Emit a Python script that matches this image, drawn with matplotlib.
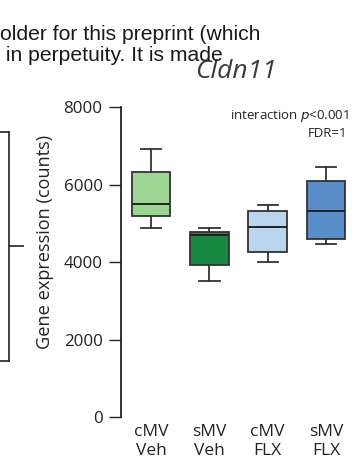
import matplotlib
matplotlib.use("Agg")
import matplotlib.pyplot as plt
from matplotlib.lines import Line2D

# box summaries per group (counts)
groups = ["cMV\nVeh", "sMV\nVeh", "cMV\nFLX", "sMV\nFLX"]
whisker_low = [4890, 3525, 4015, 4470]
q1 = [5190, 3930, 4270, 4600]
median = [5510, 4710, 4900, 5315]
q3 = [6340, 4780, 5320, 6090]
whisker_high = [6920, 4880, 5490, 6450]
box_colors = ["#9dd593", "#168a42", "#bad6ef", "#5a8ecb"]

y_ticks = [0, 2000, 4000, 6000, 8000]
gene = "Cldn11"
stat_lines = ["interaction $p$<0.001", "FDR=1"]
header_lines = ["older for this preprint (which", " in perpetuity. It is made"]

W, H = 352, 461
plt.rcParams["font.family"] = ["Open Sans", "DejaVu Sans"]
edge = "#333333"

fig = plt.figure(figsize=(W / 100, H / 100), dpi=100)


def fx(x):
    return x / W


def fy(y):
    return 1 - y / H


# bracket from the neighbouring panel
for xs, ys in [([0, 9], [131.7, 131.7]), ([9, 9], [131.7, 360.7]),
               ([0, 9], [360.7, 360.7]), ([9, 22.7], [245.7, 245.7])]:
    fig.add_artist(Line2D([fx(v) for v in xs], [fy(v) for v in ys], color=edge, lw=1.3))

ax = fig.add_axes([fx(120.7), 43.7 / H, 235.7 / W, 310 / H])

stats = []
for i, name in enumerate(groups):
    stats.append(dict(label=name, whislo=whisker_low[i], q1=q1[i], med=median[i],
                      q3=q3[i], whishi=whisker_high[i], fliers=[]))

bp = ax.bxp(stats, positions=range(len(groups)), widths=0.66, patch_artist=True,
            showfliers=False, capwidths=0.35,
            boxprops=dict(edgecolor=edge, linewidth=1.3),
            medianprops=dict(color="#222222", linewidth=1.4),
            whiskerprops=dict(color=edge, linewidth=1.3),
            capprops=dict(color=edge, linewidth=1.3))
for patch, c in zip(bp["boxes"], box_colors):
    patch.set_facecolor(c)

ax.set_xlim(-0.52, 3.52)
ax.set_ylim(0, 8000)
ax.set_yticks(y_ticks)
for s in ["top", "right", "bottom"]:
    ax.spines[s].set_visible(False)
ax.spines["left"].set_linewidth(1.3)
ax.spines["left"].set_color("#222222")
ax.tick_params(axis="y", length=8.6, width=1.0, color="#222222", pad=4.5,
               labelsize=12.2, labelcolor="#222222")
ax.tick_params(axis="x", length=0, pad=5, labelsize=12.5, labelcolor="#222222")
for lab in ax.get_xticklabels():
    lab.set_linespacing(1.25)

fig.text(fx(45), fy(241.5), "Gene expression (counts)", rotation=90, ha="center", va="center",
         fontsize=13.1, color="#222222")

fig.text(fx(236), fy(78), gene, ha="center", va="baseline", fontsize=19, style="italic",
         color="#3a3a3a")

# partial header text running across the top of the page, drawn over the title
fig.text(fx(0), fy(40), header_lines[0], family="Liberation Sans", fontsize=15.2, color="#1a1a1a", va="baseline")
fig.text(fx(0), fy(61), header_lines[1], family="Liberation Sans", fontsize=15.2, color="#1a1a1a", va="baseline")

fig.text(fx(230), fy(119), stat_lines[0], ha="left", va="baseline", fontsize=9.5, color="#222222")
fig.text(fx(307.3), fy(136.7), stat_lines[1], ha="left", va="baseline", fontsize=9.5, color="#222222")

fig.savefig("out.png", dpi=100)
